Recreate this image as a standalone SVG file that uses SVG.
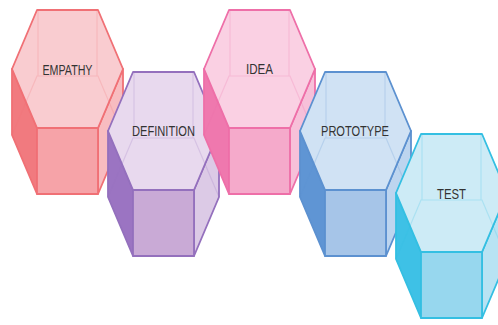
<svg xmlns="http://www.w3.org/2000/svg" width="498" height="325" viewBox="0 0 498 325">
<style>
  .face{stroke-width:1.8;stroke-linejoin:round}
  .hid{fill:none;stroke-width:1.2;stroke-opacity:0.22}
  .lbl{font-family:"Liberation Sans",Arial,sans-serif;font-size:14px;fill:#333333;text-anchor:middle}
  #empathy .face,#empathy .hid{stroke:#f07075}
  #empathy .top{fill:#f9ccd0}#empathy .front{fill:#f6a3a8}#empathy .left{fill:#f17a7f}#empathy .right{fill:#f8bcc0}
  #definition .face,#definition .hid{stroke:#9470bd}
  #definition .top{fill:#e8d9ee}#definition .front{fill:#c9aad6}#definition .left{fill:#9b74c2}#definition .right{fill:#dccae6}
  #idea .face,#idea .hid{stroke:#ee6fa8}
  #idea .top{fill:#fad0e3}#idea .front{fill:#f5aacb}#idea .left{fill:#ef78ae}#idea .right{fill:#f7c0d9}
  #prototype .face,#prototype .hid{stroke:#5c91d0}
  #prototype .top{fill:#d0e2f4}#prototype .front{fill:#a6c5e8}#prototype .left{fill:#5f95d4}#prototype .right{fill:#bdd5ef}
  #test .face,#test .hid{stroke:#34bfe2}
  #test .top{fill:#cdebf6}#test .front{fill:#97d7ee}#test .left{fill:#3ec1e6}#test .right{fill:#b8e3f3}
</style>
<rect width="498" height="325" fill="#ffffff"/>
<g id="connectors"/>
<g id="empathy" transform="translate(12,10)">
  <polygon class="face left" points="0,59 25,118 25,184 0,125"/>
  <polygon class="face right" points="111,59 86,118 86,184 111,125"/>
  <polygon class="face front" points="25,118 86,118 86,184 25,184"/>
  <polygon class="face top" points="25,0 86,0 111,59 86,118 25,118 0,59"/>
  <path class="hid" d="M0,125 L25,66 L86,66 L111,125 M26,1 V66 M85,1 V66"/>
  <text class="lbl" x="55.5" y="65" textLength="50" lengthAdjust="spacingAndGlyphs">EMPATHY</text>
</g>
<g id="definition" transform="translate(108,72)">
  <polygon class="face left" points="0,59 25,118 25,184 0,125"/>
  <polygon class="face right" points="111,59 86,118 86,184 111,125"/>
  <polygon class="face front" points="25,118 86,118 86,184 25,184"/>
  <polygon class="face top" points="25,0 86,0 111,59 86,118 25,118 0,59"/>
  <path class="hid" d="M0,125 L25,66 L86,66 L111,125 M26,1 V66 M85,1 V66"/>
  <text class="lbl" x="55.5" y="64" textLength="63" lengthAdjust="spacingAndGlyphs">DEFINITION</text>
</g>
<g id="idea" transform="translate(204,10)">
  <polygon class="face left" points="0,59 25,118 25,184 0,125"/>
  <polygon class="face right" points="111,59 86,118 86,184 111,125"/>
  <polygon class="face front" points="25,118 86,118 86,184 25,184"/>
  <polygon class="face top" points="25,0 86,0 111,59 86,118 25,118 0,59"/>
  <path class="hid" d="M0,125 L25,66 L86,66 L111,125 M26,1 V66 M85,1 V66"/>
  <text class="lbl" x="55.5" y="64" textLength="27" lengthAdjust="spacingAndGlyphs">IDEA</text>
</g>
<g id="prototype" transform="translate(300,72)">
  <polygon class="face left" points="0,59 25,118 25,184 0,125"/>
  <polygon class="face right" points="111,59 86,118 86,184 111,125"/>
  <polygon class="face front" points="25,118 86,118 86,184 25,184"/>
  <polygon class="face top" points="25,0 86,0 111,59 86,118 25,118 0,59"/>
  <path class="hid" d="M0,125 L25,66 L86,66 L111,125 M26,1 V66 M85,1 V66"/>
  <text class="lbl" x="55" y="64" textLength="68" lengthAdjust="spacingAndGlyphs">PROTOTYPE</text>
</g>
<g id="test" transform="translate(396,134)">
  <polygon class="face left" points="0,59 25,118 25,184 0,125"/>
  <polygon class="face right" points="111,59 86,118 86,184 111,125"/>
  <polygon class="face front" points="25,118 86,118 86,184 25,184"/>
  <polygon class="face top" points="25,0 86,0 111,59 86,118 25,118 0,59"/>
  <path class="hid" d="M0,125 L25,66 L86,66 L111,125 M26,1 V66 M85,1 V66"/>
  <text class="lbl" x="55.5" y="65" textLength="29" lengthAdjust="spacingAndGlyphs">TEST</text>
</g>
</svg>
